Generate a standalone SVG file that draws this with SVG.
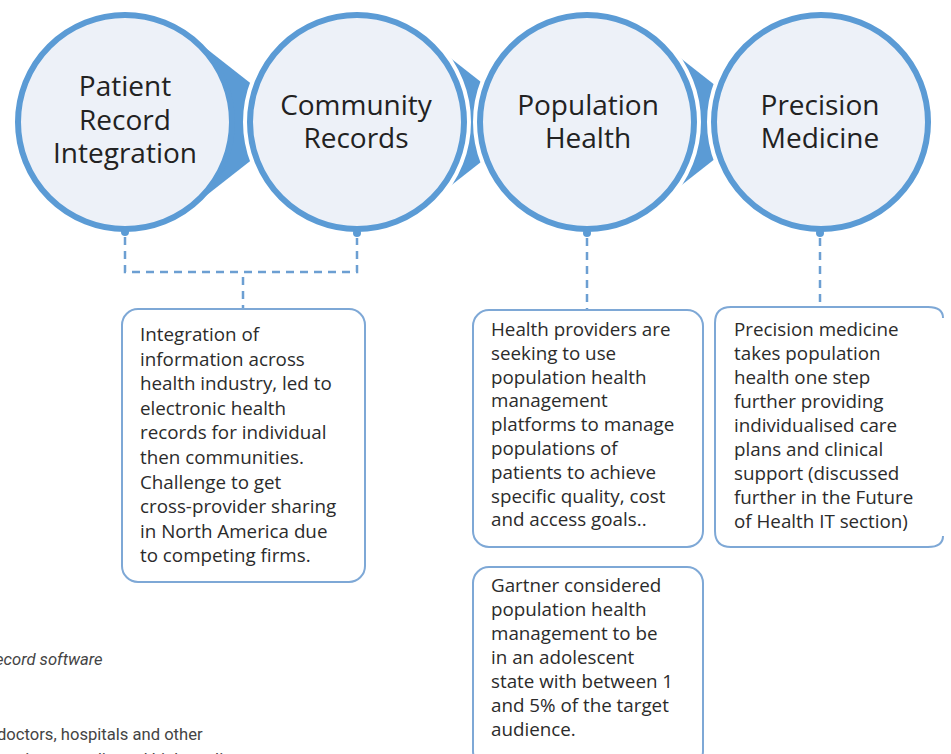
<svg xmlns="http://www.w3.org/2000/svg" width="951" height="754" viewBox="0 0 951 754">
  <style>
    .wedge { fill: #5b9bd5; }
    .halo { fill: none; stroke: #ffffff; stroke-width: 10; }
    .ring { fill: #edf1f8; stroke: #5b9bd5; stroke-width: 6; }
    .nub { fill: #5b9bd5; }
    .title { font-family: "Open Sans", "Noto Sans", sans-serif; font-size: 28px; fill: #222222; text-anchor: middle; }
    .card { fill: #ffffff; stroke: #7ea8d6; stroke-width: 2; }
    .body { font-family: "Open Sans", "Noto Sans", sans-serif; font-size: 18.8px; fill: #2b2b2b; }
    .dash { fill: none; stroke: #6c9fd2; stroke-width: 2.5; stroke-dasharray: 8 6; }
    .page { font-family: "Roboto", "Liberation Sans", sans-serif; font-size: 16.6px; fill: #444444; }
  </style>
  <rect width="951" height="754" fill="#ffffff"/>

  <!-- page text around the figure -->
  <text class="page" x="-5" y="665" font-style="italic">ecord software</text>
  <text class="page" x="-3" y="740">doctors, hospitals and other</text>
  <text class="page" x="-6" y="765">services coordinated high quality</text>

  <!-- stage circles -->
  <g id="node-patient-record">
    <polygon class="wedge" points="125,122 191.6,37 300,122 191.6,207"/>
    <circle class="ring" cx="125" cy="122" r="107"/>
    <circle class="nub" cx="125" cy="232" r="4"/>
    <text class="title" x="125" y="96">Patient</text>
    <text class="title" x="125" y="130">Record</text>
    <text class="title" x="125" y="163">Integration</text>
  </g>
  <g id="node-community-records">
    <polygon class="wedge" points="357,122 423.6,37 532,122 423.6,207"/>
    <circle class="halo" cx="357" cy="122" r="109"/>
    <circle class="ring" cx="357" cy="122" r="107"/>
    <circle class="nub" cx="357" cy="233" r="4"/>
    <text class="title" x="356" y="115">Community</text>
    <text class="title" x="356" y="148">Records</text>
  </g>
  <g id="node-population-health">
    <polygon class="wedge" points="587,122 653.6,37 762,122 653.6,207"/>
    <circle class="halo" cx="587" cy="122" r="109"/>
    <circle class="ring" cx="587" cy="122" r="107"/>
    <circle class="nub" cx="587" cy="233" r="4"/>
    <text class="title" x="588" y="115">Population</text>
    <text class="title" x="588" y="148">Health</text>
  </g>
  <g id="node-precision-medicine">
    <circle class="halo" cx="821" cy="122" r="109"/>
    <circle class="ring" cx="821" cy="122" r="107"/>
    <circle class="nub" cx="820" cy="233" r="4"/>
    <text class="title" x="820" y="115">Precision</text>
    <text class="title" x="820" y="148">Medicine</text>
  </g>

  <!-- dashed connectors -->
  <g id="connectors">
    <path class="dash" d="M125,237 V272 H357 V238"/>
    <path class="dash" d="M243,277 V308"/>
    <path class="dash" d="M587,238 V309"/>
    <path class="dash" d="M820,238 V306"/>
  </g>

  <!-- description cards -->
  <g id="card-integration">
    <rect class="card" x="122" y="309" width="243" height="273" rx="16"/>
    <text class="body">
      <tspan x="140" y="341">Integration of</tspan>
      <tspan x="140" y="365.6">information across</tspan>
      <tspan x="140" y="390.2">health industry, led to</tspan>
      <tspan x="140" y="414.8">electronic health</tspan>
      <tspan x="140" y="439.4">records for individual</tspan>
      <tspan x="140" y="464">then communities.</tspan>
      <tspan x="140" y="488.6">Challenge to get</tspan>
      <tspan x="140" y="513.2">cross-provider sharing</tspan>
      <tspan x="140" y="537.8">in North America due</tspan>
      <tspan x="140" y="562.4">to competing firms.</tspan>
    </text>
  </g>
  <g id="card-population">
    <rect class="card" x="473" y="310" width="230" height="237" rx="16"/>
    <text class="body">
      <tspan x="491" y="336">Health providers are</tspan>
      <tspan x="491" y="359.8">seeking to use</tspan>
      <tspan x="491" y="383.6">population health</tspan>
      <tspan x="491" y="407.4">management</tspan>
      <tspan x="491" y="431.2">platforms to manage</tspan>
      <tspan x="491" y="455">populations of</tspan>
      <tspan x="491" y="478.8">patients to achieve</tspan>
      <tspan x="491" y="502.6">specific quality, cost</tspan>
      <tspan x="491" y="526.4">and access goals..</tspan>
    </text>
  </g>
  <g id="card-precision">
    <path class="card" d="M943,318 Q943,307 928,307 H731 Q715,307 715,323 V531 Q715,547 731,547 H928 Q943,547 943,536"/>
    <text class="body">
      <tspan x="734" y="336">Precision medicine</tspan>
      <tspan x="734" y="360">takes population</tspan>
      <tspan x="734" y="384">health one step</tspan>
      <tspan x="734" y="408">further providing</tspan>
      <tspan x="734" y="432">individualised care</tspan>
      <tspan x="734" y="456">plans and clinical</tspan>
      <tspan x="734" y="480">support (discussed</tspan>
      <tspan x="734" y="504">further in the Future</tspan>
      <tspan x="734" y="528">of Health IT section)</tspan>
    </text>
  </g>
  <g id="card-gartner">
    <rect class="card" x="473" y="567" width="230" height="200" rx="16"/>
    <text class="body">
      <tspan x="491" y="592">Gartner considered</tspan>
      <tspan x="491" y="616">population health</tspan>
      <tspan x="491" y="640">management to be</tspan>
      <tspan x="491" y="664">in an adolescent</tspan>
      <tspan x="491" y="688">state with between 1</tspan>
      <tspan x="491" y="712">and 5% of the target</tspan>
      <tspan x="491" y="736">audience.</tspan>
    </text>
  </g>
</svg>
